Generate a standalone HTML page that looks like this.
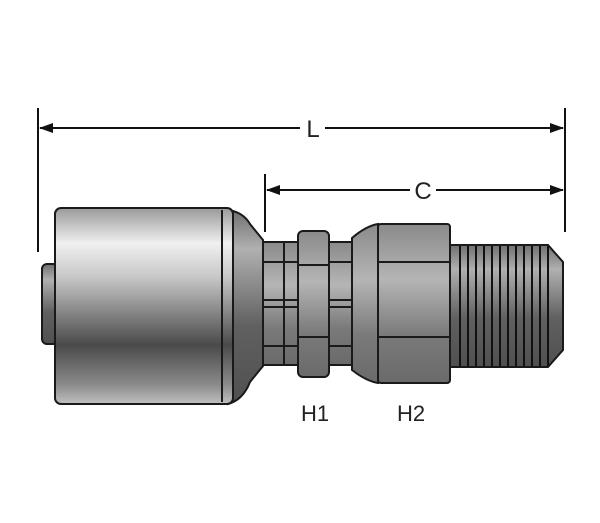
<!DOCTYPE html>
<html><head><style>
html,body{margin:0;padding:0;background:#fff;}
svg{display:block;}
text{font-family:"Liberation Sans",sans-serif;fill:#222;}
</style></head><body>
<svg width="600" height="523" viewBox="0 0 600 523" xmlns="http://www.w3.org/2000/svg">
<defs>
<linearGradient id="g" x1="0" y1="0" x2="0" y2="1">
<stop offset="0" stop-color="#9a9a9a"/>
<stop offset="0.18" stop-color="#f0f0f0"/>
<stop offset="0.35" stop-color="#c8c8c8"/>
<stop offset="0.7" stop-color="#4a4a4a"/>
<stop offset="0.9" stop-color="#8a8a8a"/>
<stop offset="1" stop-color="#c0c0c0"/>
</linearGradient>
<linearGradient id="d" x1="0" y1="0" x2="0" y2="1">
<stop offset="0" stop-color="#707070"/>
<stop offset="0.2" stop-color="#b0b0b0"/>
<stop offset="0.6" stop-color="#606060"/>
<stop offset="1" stop-color="#505050"/>
</linearGradient>
<linearGradient id="h" x1="0" y1="0" x2="0" y2="1">
<stop offset="0" stop-color="#8a8a8a"/>
<stop offset="0.35" stop-color="#b5b5b5"/>
<stop offset="0.7" stop-color="#7a7a7a"/>
<stop offset="1" stop-color="#6a6a6a"/>
</linearGradient>
<marker id="a" markerWidth="14" markerHeight="10" refX="13" refY="5" orient="auto-start-reverse" markerUnits="userSpaceOnUse">
<path d="M0,0 L14,5 L0,10 Z" fill="#111"/></marker>
</defs>
<g stroke="#111" stroke-width="2" fill="none">
<line x1="38" y1="108" x2="38" y2="252"/>
<line x1="565" y1="108" x2="565" y2="232"/>
<line x1="265" y1="174" x2="265" y2="232"/>
<line x1="40" y1="128" x2="300" y2="128" marker-start="url(#a)"/>
<line x1="325" y1="128" x2="563" y2="128" marker-end="url(#a)"/>
<line x1="267" y1="190" x2="410" y2="190" marker-start="url(#a)"/>
<line x1="436" y1="190" x2="563" y2="190" marker-end="url(#a)"/>
</g>
<text x="313" y="137" font-size="24" text-anchor="middle">L</text>
<text x="423" y="199" font-size="24" text-anchor="middle">C</text>
<g stroke="#1a1a1a" stroke-width="2">
<rect x="42" y="264" width="16" height="80" rx="5" fill="url(#d)"/>
<path d="M228,210 Q243,212 250,224 L263,240 L263,366 L250,382 Q243,400 228,404 Z" fill="url(#d)"/>
<rect x="55" y="208" width="178" height="196" rx="6" fill="url(#g)"/>
<line x1="222" y1="210" x2="222" y2="402"/>
<rect x="263" y="242" width="36" height="123" fill="url(#h)"/>
<line x1="263" y1="262" x2="299" y2="262"/><line x1="263" y1="300" x2="299" y2="300"/>
<line x1="263" y1="307" x2="299" y2="307"/><line x1="263" y1="346" x2="299" y2="346"/>
<line x1="284" y1="242" x2="284" y2="365"/>
<rect x="328" y="242" width="25" height="123" fill="url(#h)"/>
<line x1="328" y1="262" x2="353" y2="262"/><line x1="328" y1="300" x2="353" y2="300"/>
<line x1="328" y1="307" x2="353" y2="307"/><line x1="328" y1="346" x2="353" y2="346"/>
<rect x="298" y="231" width="31" height="146" rx="5" fill="url(#h)"/>
<line x1="298" y1="265" x2="329" y2="265"/><line x1="298" y1="337" x2="329" y2="337"/>
<path d="M352,238 Q366,226 378,224 L378,383 Q366,381 352,370 Z" fill="url(#h)"/>
<path d="M450,245 L548,245 L563,262 L563,350 L548,367 L450,367 Z" fill="url(#d)"/>
<rect x="378" y="224" width="72" height="159" rx="3" fill="url(#h)"/>
<path d="M378,262 L450,262 M378,337 L450,337" fill="none"/>
</g>
<g stroke="#111" stroke-width="2">
<line x1="460" y1="246" x2="460" y2="366"/><line x1="468" y1="246" x2="468" y2="366"/>
<line x1="476" y1="246" x2="476" y2="366"/><line x1="484" y1="246" x2="484" y2="366"/>
<line x1="492" y1="246" x2="492" y2="366"/><line x1="500" y1="246" x2="500" y2="366"/>
<line x1="508" y1="246" x2="508" y2="366"/><line x1="516" y1="246" x2="516" y2="366"/>
<line x1="524" y1="246" x2="524" y2="366"/><line x1="532" y1="246" x2="532" y2="366"/>
<line x1="540" y1="246" x2="540" y2="366"/><line x1="548" y1="246" x2="548" y2="366"/>
</g>
<text x="315" y="421" font-size="22" text-anchor="middle">H1</text>
<text x="411" y="421" font-size="22" text-anchor="middle">H2</text>
</svg>
</body></html>
